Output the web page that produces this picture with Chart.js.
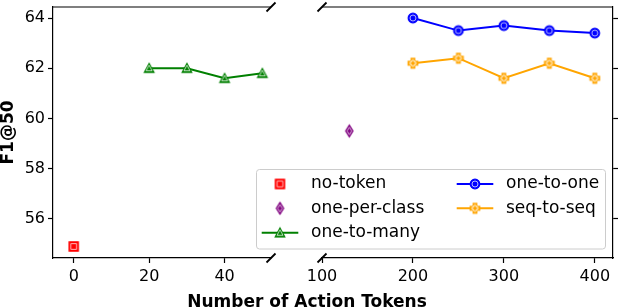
<!DOCTYPE html>
<html>
<head>
<meta charset="utf-8">
<script src="https://cdn.jsdelivr.net/npm/chart.js@4.4.0/dist/chart.umd.min.js"></script>
<style>
  html, body { margin: 0; padding: 0; background: #fff; }
  #wrap { position: relative; width: 620px; height: 308px; }
  #wrap canvas { position: absolute; left: 0; top: 0; }
</style>
</head>
<body>
<div id="wrap">
  <canvas id="leftChart" width="620" height="308"></canvas>
  <canvas id="rightChart" width="620" height="308"></canvas>
</div>
<script>
// values
const noTokenX = [0];
const noTokenY = [54.9];
const perClassX = [130];
const perClassY = [59.5];
const manyX = [20, 30, 40, 50];
const manyY = [62.0, 62.0, 61.6, 61.8];
const oneX = [200, 250, 300, 350, 400];
const oneY = [64.0, 63.5, 63.7, 63.5, 63.4];
const seqX = [200, 250, 300, 350, 400];
const seqY = [62.2, 62.4, 61.6, 62.2, 61.6];

const yTicks = [56, 58, 60, 62, 64];
const leftXTicks = [0, 20, 40];
const rightXTicks = [100, 200, 300, 400];
const seriesLabels = ["no-token", "one-per-class", "one-to-many", "one-to-one", "seq-to-seq"];

const FONT = "DejaVu Sans";
Chart.defaults.font.family = FONT;
Chart.defaults.color = "#000";

const markerPath = (ctx, shape, c, r) => {
  ctx.beginPath();
  if (shape === "circle") {
    ctx.arc(c, c, r, 0, Math.PI * 2);
  } else if (shape === "square") {
    ctx.rect(c - r, c - r, 2 * r, 2 * r);
  } else if (shape === "triangle") {
    ctx.moveTo(c, c - r);
    ctx.lineTo(c + r, c + r * 0.85);
    ctx.lineTo(c - r, c + r * 0.85);
    ctx.closePath();
  } else if (shape === "thinDiamond") {
    ctx.moveTo(c, c - r * 1.3);
    ctx.lineTo(c + r * 0.8, c);
    ctx.lineTo(c, c + r * 1.3);
    ctx.lineTo(c - r * 0.8, c);
    ctx.closePath();
  } else if (shape === "plus") {
    const a = r * 0.38;
    ctx.moveTo(c - a, c - r);
    ctx.lineTo(c + a, c - r);
    ctx.lineTo(c + a, c - a);
    ctx.lineTo(c + r, c - a);
    ctx.lineTo(c + r, c + a);
    ctx.lineTo(c + a, c + a);
    ctx.lineTo(c + a, c + r);
    ctx.lineTo(c - a, c + r);
    ctx.lineTo(c - a, c + a);
    ctx.lineTo(c - r, c + a);
    ctx.lineTo(c - r, c - a);
    ctx.lineTo(c - a, c - a);
    ctx.closePath();
  }
};

const makeMarker = (shape, color, r) => {
  const s = Math.ceil(r * 2.8) + 4;
  const cv = document.createElement("canvas");
  cv.width = s;
  cv.height = s;
  const ctx = cv.getContext("2d");
  const c = s / 2;
  markerPath(ctx, shape, c, r);
  ctx.fillStyle = color;
  ctx.fill();
  ctx.strokeStyle = color;
  ctx.lineWidth = 1.2;
  ctx.stroke();
  markerPath(ctx, shape, c, r * 0.62);
  ctx.strokeStyle = "rgba(255,255,255,0.8)";
  ctx.lineWidth = 0.9;
  ctx.stroke();
  return cv;
};

const seriesStyle = {
  "no-token": { color: "#ff0000", marker: makeMarker("square", "#ff0000", 4.6), line: false },
  "one-per-class": { color: "#800080", marker: makeMarker("thinDiamond", "#800080", 4.6), line: false },
  "one-to-many": { color: "#008000", marker: makeMarker("triangle", "#008000", 4.8), line: true },
  "one-to-one": { color: "#0000ff", marker: makeMarker("circle", "#0000ff", 4.8), line: true },
  "seq-to-seq": { color: "#ffa500", marker: makeMarker("plus", "#ffa500", 4.8), line: true },
};

const makeDataset = (label, xs, ys) => {
  const st = seriesStyle[label];
  return {
    label,
    data: xs.map((x, i) => ({ x, y: ys[i] })),
    showLine: st.line,
    borderColor: st.color,
    backgroundColor: st.color,
    borderWidth: 2,
    tension: 0,
    pointStyle: st.marker,
    pointRadius: 5,
  };
};

// fixed axis size, and no extra room asked for the end labels
const fixSize = (w, h) => (s) => {
  if (w !== null) s.width = w;
  if (h !== null) s.height = h;
  s.paddingTop = 0;
  s.paddingBottom = 0;
  s.paddingLeft = 0;
  s.paddingRight = 0;
};

const makeScale = (min, max, tickList, pad) => ({
  type: "linear",
  min,
  max,
  afterBuildTicks: (s) => {
    s.ticks = tickList.map((v) => ({ value: v }));
  },
  grid: { drawOnChartArea: false, drawTicks: true, tickLength: 5, tickColor: "#000", tickWidth: 1.2 },
  border: { display: true, color: "#000", width: 1.2 },
  ticks: { color: "#000", font: { family: FONT, size: 16 }, padding: pad, maxRotation: 0, autoSkip: false },
});

// top spine plus the "/" marks of the broken axis
const frame = (side) => ({
  id: "frame",
  afterDraw(chart) {
    const { ctx, chartArea: a } = chart;
    ctx.save();
    ctx.strokeStyle = "#000";
    ctx.lineWidth = 1.2;
    ctx.beginPath();
    ctx.moveTo(a.left, a.top);
    ctx.lineTo(a.right, a.top);
    ctx.stroke();
    ctx.lineWidth = 1.8;
    const x = side === "right" ? a.right : a.left;
    [a.top, a.bottom].forEach((y) => {
      ctx.beginPath();
      ctx.moveTo(x - 4.5, y + 4.5);
      ctx.lineTo(x + 4.5, y - 4.5);
      ctx.stroke();
    });
    ctx.restore();
  },
});

const legendBox = {
  id: "legendBox",
  afterDraw(chart) {
    const { ctx } = chart;
    const bx = 256.5, by = 169.5, bw = 349, bh = 79.5;
    const handleX = [261.7, 456.7];
    const rowY = [184, 208.3, 232.7];
    ctx.save();
    ctx.fillStyle = "rgba(255,255,255,0.8)";
    ctx.strokeStyle = "#cccccc";
    ctx.lineWidth = 1;
    ctx.beginPath();
    ctx.roundRect(bx, by, bw, bh, 3);
    ctx.fill();
    ctx.stroke();
    ctx.font = "17px " + FONT;
    ctx.textBaseline = "middle";
    ctx.textAlign = "left";
    seriesLabels.forEach((label, i) => {
      const st = seriesStyle[label];
      const hx = handleX[i < 3 ? 0 : 1];
      const y = rowY[i % 3];
      if (st.line) {
        ctx.strokeStyle = st.color;
        ctx.lineWidth = 2;
        ctx.beginPath();
        ctx.moveTo(hx, y);
        ctx.lineTo(hx + 36.6, y);
        ctx.stroke();
      }
      const m = st.marker;
      ctx.drawImage(m, hx + 18.3 - m.width / 2, y - m.height / 2);
      ctx.fillStyle = "#000";
      ctx.fillText(label, hx + 49.3, y);
    });
    ctx.font = "bold 17px " + FONT;
    ctx.textAlign = "center";
    ctx.textBaseline = "alphabetic";
    ctx.fillText("Number of Action Tokens", 307, 306.5);
    ctx.restore();
  },
};

const leftChart = new Chart(document.getElementById("leftChart"), {
  type: "scatter",
  data: {
    datasets: [
      makeDataset("no-token", noTokenX, noTokenY),
      makeDataset("one-to-many", manyX, manyY),
    ],
  },
  options: {
    responsive: false,
    animation: false,
    events: [],
    layout: { padding: { left: 0, right: 349, top: 4, bottom: 0 } },
    plugins: { legend: { display: false }, tooltip: { enabled: false } },
    scales: {
      x: { ...makeScale(-5.5, 52.3, leftXTicks, 4), position: "bottom", afterFit: fixSize(null, 50) },
      y: {
        ...makeScale(54.44, 64.44, yTicks, 3),
        position: "left",
        afterFit: fixSize(53, null),
        title: { display: true, text: "F1@50", color: "#000", padding: 0, font: { family: FONT, size: 17, weight: "bold", lineHeight: 1 } },
      },
    },
  },
  plugins: [frame("right")],
});

const rightY = makeScale(54.44, 64.44, yTicks, 3);
rightY.ticks.color = "rgba(0,0,0,0)";

const rightChart = new Chart(document.getElementById("rightChart"), {
  type: "scatter",
  data: {
    datasets: [
      makeDataset("one-per-class", perClassX, perClassY),
      makeDataset("one-to-one", oneX, oneY),
      makeDataset("seq-to-seq", seqX, seqY),
    ],
  },
  options: {
    responsive: false,
    animation: false,
    events: [],
    layout: { padding: { left: 322, right: 0, top: 4, bottom: 0 } },
    plugins: { legend: { display: false }, tooltip: { enabled: false } },
    scales: {
      x: { ...makeScale(100, 420, rightXTicks, 4), position: "bottom", afterFit: fixSize(null, 50) },
      y: { ...rightY, position: "right", afterFit: fixSize(6, null) },
    },
  },
  plugins: [frame("left"), legendBox],
});
</script>
</body>
</html>
